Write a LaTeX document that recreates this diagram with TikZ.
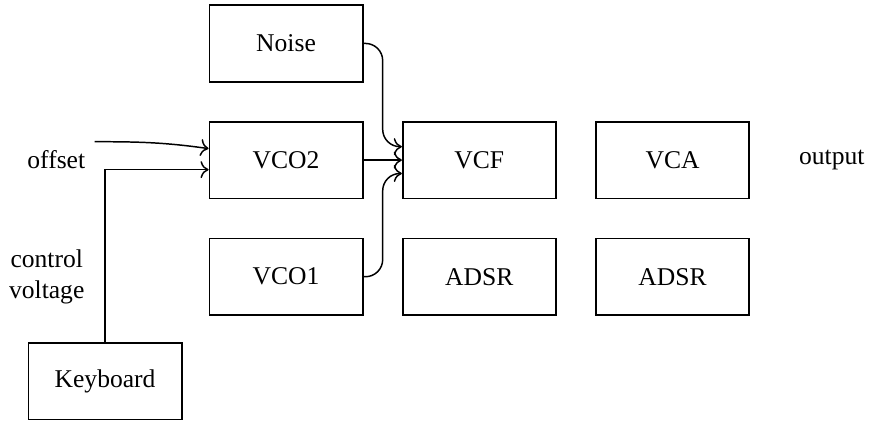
\documentclass[tikz,border=0pt]{standalone}
\usepackage{fontspec}
\setmainfont{Liberation Serif}
\usetikzlibrary{positioning, calc, arrows.meta}

\begin{document}
\begin{tikzpicture}[
  node distance=1cm and 1cm,
  font=\fontsize{19}{23}\selectfont,
  block/.style={draw, line width=1.3pt, minimum width=4cm, minimum height=2cm, inner sep=0pt},
  lbl/.style={align=center},
  arr/.style={-{To[scale=1.5]}, line width=1.1pt},
]
  \useasboundingbox (-7.47,-6.79) rectangle (15.43,4.18);

  % Oscillators
  \node[block] (vco2) {VCO2};
  \node[block, above=of vco2] (noise) {Noise};
  \node[block, below=of vco2] (vco1) {VCO1};

  % Filter and amplifier
  \node[block, right=of vco2] (vcf) {VCF};
  \node[block, right=of vcf] (vca) {VCA};
  \node[block, below=of vcf] (adsrf) {ADSR};
  \node[block, below=of vca] (adsra) {ADSR};

  % Keyboard
  \node[block, below left=0.68cm and 0.68cm of vco1] (keyb) {Keyboard};

  % Labels
  \node[lbl] (offset) at (-6,0) {offset};
  \node[lbl] (cv) at (-6.25,-3.05) {control\\voltage};
  \node[lbl] (output) at (14.25,0) {output};
  \coordinate (offin) at (-5,0.48);

  % Inputs -> VCO2
  \draw[arr] (offin) to[out=0, in=172] ([yshift=0.3cm]vco2.west);
  \draw[arr] (keyb.north) |- ([yshift=-0.25cm]vco2.west);

  % Sources -> VCF
  \draw[arr] (vco2) -- (vcf);
  \draw[arr, rounded corners=0.45cm] (noise.east) -| ++(0.5,-1.5) |- ([yshift=0.35cm]vcf.west);
  \draw[arr, rounded corners=0.45cm] (vco1.east) -| ++(0.5,1.5) |- ([yshift=-0.35cm]vcf.west);

\end{tikzpicture}
\end{document}
